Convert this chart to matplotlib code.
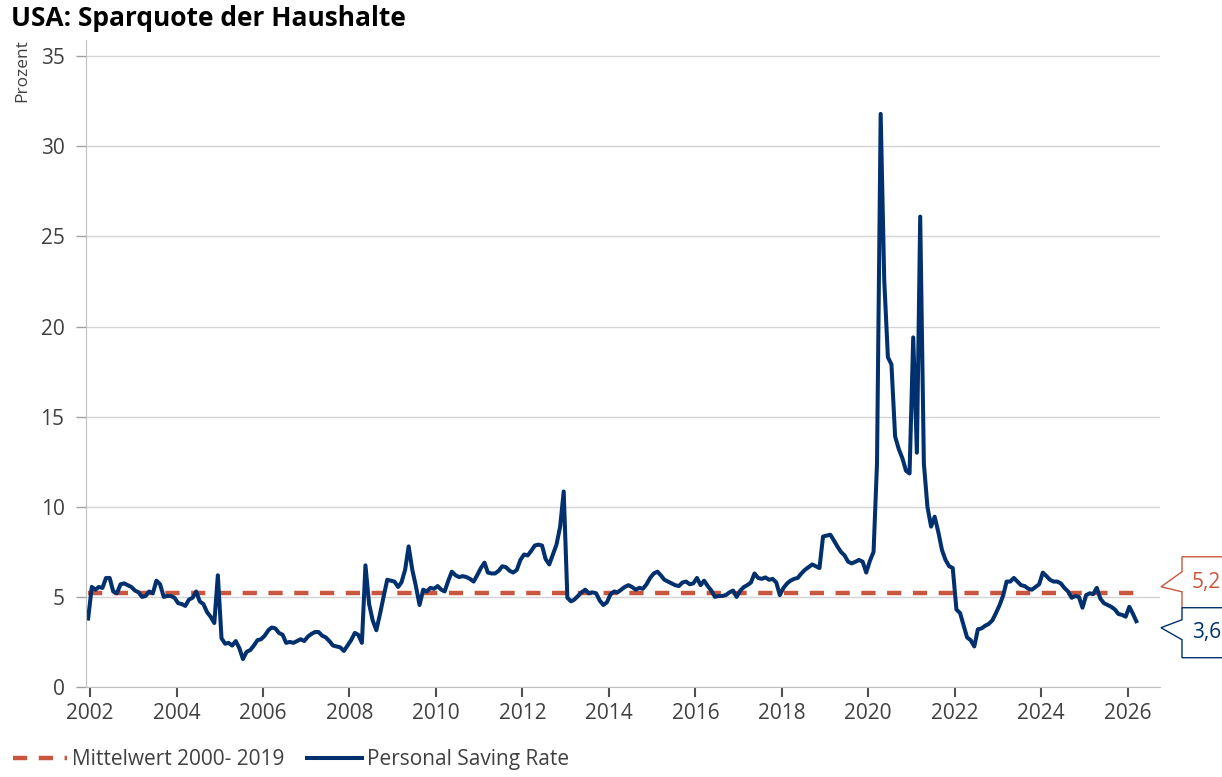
import numpy as np
import pandas as pd
import matplotlib
matplotlib.use("Agg")
import matplotlib.pyplot as plt
import matplotlib.dates as mdates
from matplotlib.patches import Polygon
from matplotlib.transforms import IdentityTransform

plt.rcParams['font.family'] = ['Open Sans', 'DejaVu Sans']

# monthly personal saving rate, Dec 2001 .. Mar 2026
rate_2001 = [3.8]
rate_2002 = [5.55, 5.4, 5.55, 5.5, 6.05, 6.05, 5.3, 5.2, 5.7, 5.75, 5.65, 5.55]
rate_2003 = [5.35, 5.25, 5.0, 5.05, 5.3, 5.2, 5.9, 5.7, 5.0, 5.05, 5.05, 4.95]
rate_2004 = [4.65, 4.6, 4.5, 4.85, 4.95, 5.3, 4.75, 4.6, 4.15, 3.9, 3.55, 6.2]
rate_2005 = [2.7, 2.4, 2.45, 2.3, 2.55, 2.15, 1.55, 1.95, 2.05, 2.3, 2.6, 2.65]
rate_2006 = [2.85, 3.15, 3.3, 3.25, 3.0, 2.9, 2.45, 2.5, 2.45, 2.55, 2.65, 2.55]
rate_2007 = [2.8, 2.95, 3.05, 3.05, 2.85, 2.75, 2.55, 2.3, 2.25, 2.2, 2.0, 2.3]
rate_2008 = [2.6, 3.0, 2.9, 2.45, 6.75, 4.6, 3.7, 3.15, 4.05, 5.0, 5.95, 5.9]
rate_2009 = [5.85, 5.55, 5.8, 6.5, 7.8, 6.5, 5.6, 4.55, 5.4, 5.3, 5.5, 5.45]
rate_2010 = [5.6, 5.4, 5.3, 5.9, 6.4, 6.2, 6.1, 6.15, 6.1, 6.0, 5.85, 6.2]
rate_2011 = [6.6, 6.9, 6.35, 6.3, 6.3, 6.45, 6.7, 6.65, 6.45, 6.35, 6.5, 7.05]
rate_2012 = [7.35, 7.3, 7.55, 7.85, 7.9, 7.85, 7.1, 6.8, 7.35, 7.9, 8.9, 10.85]
rate_2013 = [4.95, 4.75, 4.85, 5.05, 5.25, 5.4, 5.2, 5.25, 5.2, 4.8, 4.55, 4.7]
rate_2014 = [5.15, 5.3, 5.25, 5.4, 5.55, 5.65, 5.55, 5.4, 5.5, 5.45, 5.7, 6.05]
rate_2015 = [6.3, 6.4, 6.2, 5.95, 5.85, 5.75, 5.65, 5.6, 5.8, 5.85, 5.7, 5.75]
rate_2016 = [6.05, 5.65, 5.9, 5.6, 5.35, 5.0, 5.05, 5.05, 5.1, 5.25, 5.35, 5.0]
rate_2017 = [5.35, 5.55, 5.65, 5.8, 6.3, 6.05, 6.0, 6.08, 5.95, 6.0, 5.8, 5.1]
rate_2018 = [5.5, 5.75, 5.9, 6.0, 6.05, 6.3, 6.5, 6.65, 6.8, 6.7, 6.6, 8.35]
rate_2019 = [8.4, 8.45, 8.15, 7.8, 7.5, 7.3, 6.95, 6.86, 6.95, 7.05, 6.95, 6.35]
rate_2020 = [7.0, 7.5, 12.4, 31.8, 22.6, 18.3, 17.9, 13.9, 13.2, 12.7, 12.0, 11.85]
rate_2021 = [19.4, 13.0, 26.1, 12.4, 10.0, 8.9, 9.45, 8.6, 7.6, 7.05, 6.7, 6.6]
rate_2022 = [4.3, 4.1, 3.45, 2.75, 2.6, 2.25, 3.2, 3.25, 3.4, 3.5, 3.7, 4.1]
rate_2023 = [4.55, 5.1, 5.85, 5.85, 6.05, 5.85, 5.65, 5.6, 5.45, 5.4, 5.55, 5.7]
rate_2024 = [6.35, 6.15, 5.95, 5.85, 5.85, 5.75, 5.5, 5.3, 4.95, 5.05, 5.0, 4.4]
rate_2025 = [5.1, 5.2, 5.15, 5.5, 4.9, 4.65, 4.55, 4.45, 4.3, 4.05, 4.0, 3.9]
rate_2026 = [4.45, 4.05, 3.65]

saving_rate = (rate_2001 + rate_2002 + rate_2003 + rate_2004 + rate_2005 + rate_2006
               + rate_2007 + rate_2008 + rate_2009 + rate_2010 + rate_2011 + rate_2012
               + rate_2013 + rate_2014 + rate_2015 + rate_2016 + rate_2017 + rate_2018
               + rate_2019 + rate_2020 + rate_2021 + rate_2022 + rate_2023 + rate_2024
               + rate_2025 + rate_2026)
mean_2000_2019 = 5.2
last_label = "3,6"
mean_label = "5,2"

dates = pd.date_range("2001-12-01", periods=len(saving_rate), freq="MS") + pd.Timedelta(days=14)

navy = "#00306e"
red = "#c9563f"
tick_col = "#404040"
grid_col = "#d4d4d4"

W, H = 1222, 777
fig = plt.figure(figsize=(W / 100, H / 100), dpi=100)
ax = fig.add_axes([86 / W, 1 - 687 / H, (1160 - 86) / W, (687 - 40) / H])

ax.plot([dates[0], dates[-1]], [mean_2000_2019, mean_2000_2019], color=red, lw=3.2,
        dashes=(3.2, 2.6), label="Mittelwert 2000- 2019", solid_capstyle="butt")
ax.plot(dates, saving_rate, color=navy, lw=2.9, label="Personal Saving Rate",
        solid_joinstyle="round")

ax.set_ylim(0, 35.9)
ax.set_xlim(pd.Timestamp("2001-11-27"), pd.Timestamp("2026-10-01"))
ax.set_yticks(np.arange(0, 36, 5))
ax.xaxis.set_major_locator(mdates.YearLocator(2))
ax.xaxis.set_major_formatter(mdates.DateFormatter("%Y"))

ax.grid(axis="y", color=grid_col, lw=1)
ax.set_axisbelow(True)
for s in ["top", "right"]:
    ax.spines[s].set_visible(False)
ax.spines["left"].set_color("#bfbfbf")
ax.spines["bottom"].set_color("#bfbfbf")
ax.tick_params(axis="y", length=7.5, width=1, color="#a0a0a0", labelsize=15,
               labelcolor=tick_col, pad=8)
ax.tick_params(axis="x", length=7.5, width=1.5, color="#505050", labelsize=15,
               labelcolor=tick_col, pad=4)

fig.text(11 / W, 1 - 18 / H, "USA: Sparquote der Haushalte", fontsize=19,
         fontweight="bold", va="center", ha="left", color="black")
fig.text(22 / W, 1 - 39 / H, "Prozent", rotation=90, fontsize=12.5, va="top",
         ha="center", color=tick_col)

leg = fig.legend(loc="lower left", bbox_to_anchor=(-6 / W, -12 / H), ncol=2, frameon=False,
                 fontsize=15, handlelength=2.6, columnspacing=1.1, handletextpad=0.25)
for t in leg.get_texts():
    t.set_color(tick_col)

# callout boxes at the right edge
fig.canvas.draw()
x_tip = ax.transAxes.transform((1, 0))[0] + 1
x_box = x_tip + 21
callouts = [
    (mean_2000_2019, mean_label, red, 6.5, (30, 15, -5, -21.5)),
    (saving_rate[-1], last_label, navy, -6.5, (20, 8, -12, -30)),
]
for val, txt, col, nudge, (top, ntop, nbot, bot) in callouts:
    ty = ax.transData.transform((0, val))[1] + nudge
    pts = [(W + 5, ty + top), (x_box, ty + top), (x_box, ty + ntop), (x_tip, ty),
           (x_box, ty + nbot), (x_box, ty + bot), (W + 5, ty + bot)]
    fig.add_artist(Polygon(pts, closed=False, fill=True, facecolor="white",
                           edgecolor=col, lw=1, transform=IdentityTransform()))
    fig.text(x_box + 10, ty + (top + bot) / 2, txt, color=col, fontsize=15,
             va="center", ha="left", transform=IdentityTransform())

fig.savefig("out.png", dpi=100)
